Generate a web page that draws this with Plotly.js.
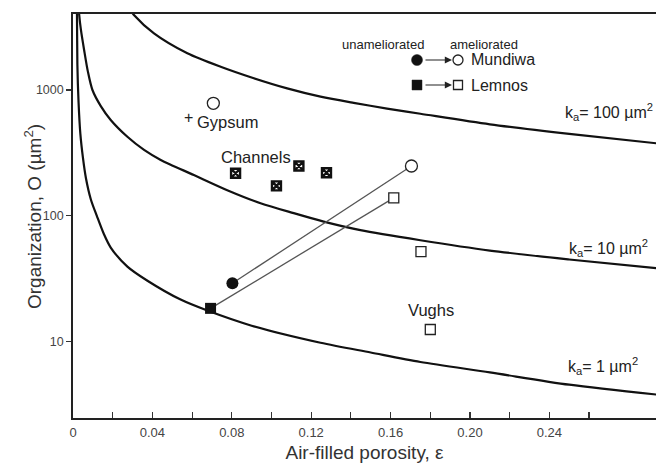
<!DOCTYPE html>
<html>
<head>
<meta charset="utf-8">
<script src="https://cdn.plot.ly/plotly-3.0.1.min.js"></script>
<style>html,body{margin:0;padding:0;background:#fff;}#chart{width:656px;height:469px;}</style>
</head>
<body>
<div id="chart"></div>
<script>
// k_a iso-lines
const eps1 = [0.0018, 0.0020, 0.0022, 0.0028, 0.0037, 0.0050, 0.0065, 0.0090, 0.012, 0.0155, 0.019, 0.0274, 0.0375, 0.0542, 0.068, 0.09, 0.1247, 0.15, 0.175, 0.21, 0.25, 0.294];
const O1   = [5000, 4000, 1600, 800, 450, 290, 200, 135, 100, 72, 56, 39.5, 30.5, 21.6, 17.6, 13.4, 9.8, 8.2, 6.9, 5.7, 4.55, 3.8];
const eps10 = [0.0028, 0.0031, 0.0040, 0.0056, 0.0075, 0.0098, 0.014, 0.019, 0.0274, 0.0358, 0.0442, 0.0609, 0.0777, 0.0945, 0.1112, 0.1263, 0.1448, 0.175, 0.21, 0.25, 0.294];
const O10   = [4800, 4000, 3000, 2080, 1400, 1000, 745, 578, 425, 334, 278, 211, 160, 126, 105, 90, 77, 64, 53, 45, 38.3];
const eps100 = [0.029, 0.0307, 0.0408, 0.0576, 0.0744, 0.0911, 0.1079, 0.1247, 0.1414, 0.1582, 0.175, 0.21, 0.25, 0.294];
const O100   = [4300, 3950, 2820, 1960, 1530, 1240, 1030, 885, 790, 712, 648, 534, 448, 377];

// soils: [unameliorated, ameliorated]
const mundiwaEps = [0.0803, 0.1705];
const mundiwaO   = [29.1, 249];
const lemnosEps  = [0.0693, 0.1616];
const lemnosO    = [18.4, 139];
const gypsumEps  = [0.0707];
const gypsumO    = [784];
const channelsEps = [0.0819, 0.1025, 0.1138, 0.1277];
const channelsO   = [218, 173, 249, 220];
const squaresEps  = [0.1753, 0.18];
const squaresO    = [51.9, 12.5];

const xTickVals = [0, 0.02, 0.04, 0.06, 0.08, 0.10, 0.12, 0.14, 0.16, 0.18, 0.20, 0.22, 0.24, 0.26];
const xTickText = ['0', '', '0.04', '', '0.08', '', '0.12', '', '0.16', '', '0.20', '', '0.24', ''];
const yTickVals = [10, 100, 1000];
const yTickText = ['10', '100', '1000'];

const FONT = 'Arial, "Liberation Sans", Helvetica, sans-serif';
const curveLine = {color: '#111', width: 2.2, shape: 'spline', smoothing: 0.8};

const traces = [
  {x: eps1, y: O1, mode: 'lines', line: curveLine, hoverinfo: 'skip'},
  {x: eps10, y: O10, mode: 'lines', line: curveLine, hoverinfo: 'skip'},
  {x: eps100, y: O100, mode: 'lines', line: curveLine, hoverinfo: 'skip'},
  {x: mundiwaEps, y: mundiwaO, mode: 'lines', line: {color: '#555', width: 1.3}},
  {x: lemnosEps, y: lemnosO, mode: 'lines', line: {color: '#555', width: 1.3}},
  {x: [mundiwaEps[0]], y: [mundiwaO[0]], mode: 'markers', marker: {symbol: 'circle', size: 12, color: '#111'}},
  {x: [mundiwaEps[1]], y: [mundiwaO[1]], mode: 'markers', marker: {symbol: 'circle', size: 12, color: '#fff', line: {color: '#222', width: 1.3}}},
  {x: [lemnosEps[0]], y: [lemnosO[0]], mode: 'markers', marker: {symbol: 'square', size: 11, color: '#111'}},
  {x: [lemnosEps[1]], y: [lemnosO[1]], mode: 'markers', marker: {symbol: 'square', size: 10, color: '#fff', line: {color: '#222', width: 1.3}}},
  {x: gypsumEps, y: gypsumO, mode: 'markers', marker: {symbol: 'circle', size: 12, color: '#fff', line: {color: '#222', width: 1.3}}},
  {x: channelsEps, y: channelsO, mode: 'markers', marker: {symbol: 'square-x-open', size: 9, color: '#111', line: {color: '#111', width: 2.4}}},
  {x: squaresEps, y: squaresO, mode: 'markers', marker: {symbol: 'square', size: 10, color: '#fff', line: {color: '#222', width: 1.3}}}
];

// paper coordinate helpers (plot area: 73..656 px, 14..418 px)
const px = v => (v - 73) / 583;
const py = v => (418 - v) / 404;

function txt(text, x, y, size, xanchor, color) {
  return {text: text, xref: 'paper', yref: 'paper', x: x, y: y, xanchor: xanchor || 'center', yanchor: 'middle',
          showarrow: false, font: {family: FONT, size: size, color: color || '#222'}};
}
function arrow(xTip, y) {
  return {text: '', xref: 'paper', yref: 'paper', x: xTip, y: y, ax: -28, ay: 0, showarrow: true,
          arrowhead: 2, arrowsize: 1.2, arrowwidth: 1.2, arrowcolor: '#222', standoff: 0, startstandoff: 0};
}
function marker(type, x, y, filled, half) {
  return {type: type, xref: 'paper', yref: 'paper', xsizemode: 'pixel', ysizemode: 'pixel',
          xanchor: x, yanchor: y, x0: -half, x1: half, y0: -half, y1: half,
          fillcolor: filled ? '#111' : '#fff', line: {color: '#222', width: filled ? 0.5 : 1.3}};
}

const yTitle = txt('Organization, O (µm<sup>2</sup>)', px(33), py(217), 19, 'center', '#333');
yTitle.textangle = -90;

const layout = {
  width: 656, height: 469,
  margin: {l: 73, r: 0, t: 14, b: 51, pad: 0},
  paper_bgcolor: '#fff', plot_bgcolor: '#fff',
  showlegend: false,
  font: {family: FONT, color: '#333'},
  xaxis: {
    range: [0, 0.2937], showgrid: false, zeroline: false,
    showline: true, linecolor: '#222', linewidth: 1.6, mirror: true,
    ticks: 'inside', ticklen: 6, tickwidth: 1.2, tickcolor: '#333',
    tickvals: xTickVals, ticktext: xTickText, ticklabelstandoff: 2,
    tickfont: {family: FONT, size: 13, color: '#444'},
    title: {text: 'Air-filled porosity, ε', font: {family: FONT, size: 19, color: '#333'}, standoff: 6}
  },
  yaxis: {
    type: 'log', range: [0.3935, 3.604], showgrid: false, zeroline: false,
    showline: true, linecolor: '#222', linewidth: 1.8,
    ticks: 'outside', ticklen: 5, tickwidth: 1.2, tickcolor: '#333',
    tickvals: yTickVals, ticktext: yTickText,
    tickfont: {family: FONT, size: 12.5, color: '#444'}
  },
  shapes: [
    marker('circle', px(417), py(60), true, 5.5),
    marker('circle', px(458), py(60), false, 5),
    marker('rect', px(417), py(85), true, 5),
    marker('rect', px(458), py(85), false, 4.5)
  ],
  annotations: [
    yTitle,
    txt('unameliorated', px(383), py(45), 13),
    txt('ameliorated', px(484), py(45), 13),
    arrow(px(452), py(60)),
    arrow(px(452), py(85)),
    txt('Mundiwa', px(469), py(60), 16, 'left'),
    txt('Lemnos', px(469), py(85), 16, 'left'),
    txt('+', px(188), py(117), 16),
    txt('Gypsum', px(227.5), py(121.5), 16.5),
    txt('Channels', px(255.5), py(157), 16.5),
    txt('Vughs', px(430.5), py(310), 16.5),
    txt('k<sub>a</sub>= 100 µm<sup>2</sup>', px(655), py(112), 16, 'right'),
    txt('k<sub>a</sub>= 10 µm<sup>2</sup>', px(650), py(248), 16, 'right'),
    txt('k<sub>a</sub>= 1 µm<sup>2</sup>', px(640), py(366), 16, 'right')
  ]
};

Plotly.newPlot('chart', traces, layout, {displayModeBar: false, staticPlot: true});
</script>
</body>
</html>
